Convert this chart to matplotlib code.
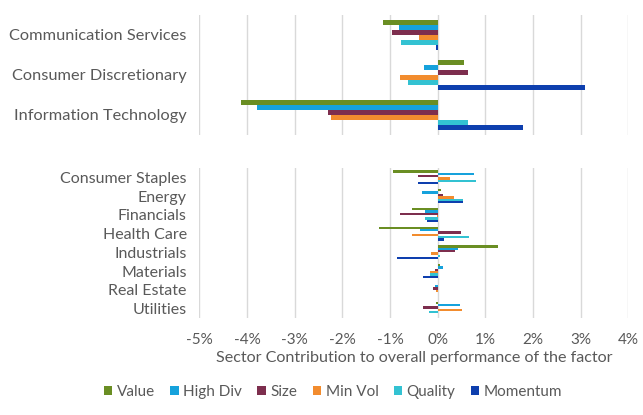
import matplotlib.pyplot as plt
import numpy as np

plt.rcParams['font.family'] = ['Lato', 'DejaVu Sans']

factors = ['Value', 'High Div', 'Size', 'Min Vol', 'Quality', 'Momentum']
colors = ['#6A8E23', '#16A2DC', '#7D2E4E', '#F28C2E', '#33C2D2', '#0E3FAE']

# top panel: the three big sectors
top_sectors = ['Communication Services', 'Consumer Discretionary', 'Information Technology']
top_value = [-1.15, 0.56, -4.13]
top_highdiv = [-0.80, -0.29, -3.80]
top_size = [-0.96, 0.64, -2.30]
top_minvol = [-0.39, -0.78, -2.24]
top_quality = [-0.76, -0.62, 0.64]
top_momentum = [-0.03, 3.10, 1.79]

# bottom panel: the rest
bot_sectors = ['Consumer Staples', 'Energy', 'Financials', 'Health Care',
               'Industrials', 'Materials', 'Real Estate', 'Utilities']
bot_value = [-0.94, 0.07, -0.54, -1.24, 1.26, 0.04, 0.00, -0.04]
bot_highdiv = [0.76, -0.32, -0.27, -0.36, 0.43, 0.11, -0.06, 0.46]
bot_size = [-0.41, 0.12, -0.78, 0.50, 0.37, -0.06, -0.10, -0.30]
bot_minvol = [0.26, 0.35, -0.02, -0.54, -0.13, -0.15, -0.04, 0.51]
bot_quality = [0.80, 0.53, -0.27, 0.65, 0.05, -0.15, 0.00, -0.18]
bot_momentum = [-0.42, 0.54, -0.23, 0.13, -0.85, -0.30, 0.00, 0.00]

top_series = [top_value, top_highdiv, top_size, top_minvol, top_quality, top_momentum]
bot_series = [bot_value, bot_highdiv, bot_size, bot_minvol, bot_quality, bot_momentum]

txt = '#595959'
h = 0.125

fig = plt.figure(figsize=(6.43, 4.15), dpi=100)
ax1 = fig.add_axes([0.310, 0.675, 0.667, 0.289])
ax2 = fig.add_axes([0.310, 0.234, 0.667, 0.361])


def draw(ax, sectors, series, fs):
    y = np.arange(len(sectors))
    for j, (vals, c) in enumerate(zip(series, colors)):
        ax.barh(y + (j - 2.5) * h, vals, height=h, color=c, label=factors[j], zorder=3)
    ax.set_yticks(y)
    ax.set_yticklabels(sectors, fontsize=fs, color=txt)
    ax.set_ylim(len(sectors) - 0.5, -0.5)
    ax.set_xlim(-5, 4)
    ax.set_xticks(np.arange(-5, 5, 1))
    ax.grid(axis='x', color='#d9d9d9', linewidth=1, zorder=0)
    for s in ax.spines.values():
        s.set_visible(False)
    ax.tick_params(length=0, pad=9)


draw(ax1, top_sectors, top_series, 11.8)
draw(ax2, bot_sectors, bot_series, 11.5)
ax1.set_xticklabels([])
ax2.set_xticklabels([f'{t}%' for t in range(-5, 5)], fontsize=11, color=txt)
ax2.tick_params(axis='x', pad=11)
ax2.set_xlabel('Sector Contribution to overall performance of the factor',
               fontsize=11.6, color=txt, labelpad=3)

handles, labels = ax2.get_legend_handles_labels()
fig.legend(handles, labels, loc='center', bbox_to_anchor=(0.518, 0.055), ncol=6,
           frameon=False, fontsize=11, handlelength=0.55, handleheight=0.55,
           handletextpad=0.3, columnspacing=1.0, labelcolor=txt)

fig.savefig('out.png', dpi=100)
